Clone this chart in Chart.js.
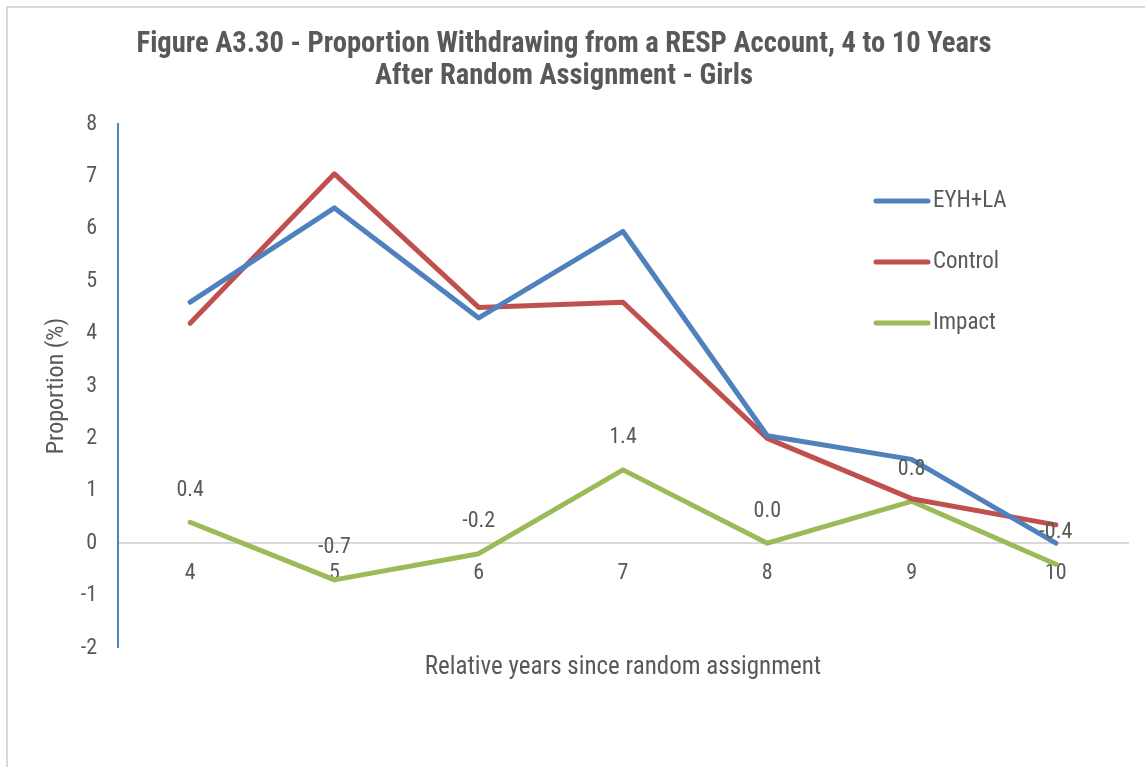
<!DOCTYPE html>
<html>
<head>
<meta charset="utf-8">
<script src="https://cdn.jsdelivr.net/npm/chart.js@4"></script>
<style>
  body { margin: 0; background: #fff; }
  #wrap { position: relative; width: 1145px; height: 767px; overflow: hidden; }
  #frame { position: absolute; left: 6px; top: 6px; width: 1200px; height: 800px; border: 2px solid #d9d9d9; box-sizing: border-box; pointer-events: none; }
  canvas { position: absolute; left: 0; top: 0; }
</style>
</head>
<body>
<div id="wrap">
  <canvas id="chart" width="1145" height="767"></canvas>
  <div id="frame"></div>
</div>
<script>
var years = ["4", "5", "6", "7", "8", "9", "10"];
var eyhLa = [4.6, 6.4, 4.3, 5.95, 2.05, 1.6, 0.0];
var control = [4.2, 7.05, 4.5, 4.6, 2.0, 0.85, 0.35];
var impact = [0.4, -0.7, -0.2, 1.4, 0.0, 0.8, -0.4];
var yTicks = [-2, -1, 0, 1, 2, 3, 4, 5, 6, 7, 8];

var FONT = "'Liberation Sans Narrow', 'Arial Narrow', 'Roboto Condensed', 'Liberation Sans', sans-serif";
var GREY = "#595959";

// etiquetas de valor sobre a série Impact
var valueLabels = {
  id: "valueLabels",
  afterDatasetsDraw: function (chart) {
    var ctx = chart.ctx;
    var meta = chart.getDatasetMeta(2);
    ctx.save();
    ctx.font = "22px " + FONT;
    ctx.fillStyle = GREY;
    ctx.textAlign = "center";
    ctx.textBaseline = "middle";
    meta.data.forEach(function (pt, i) {
      ctx.fillText(impact[i].toFixed(1), pt.x, pt.y - 32);
    });
    ctx.restore();
  }
};

// legenda à direita, dentro da área do gráfico
var sideLegend = {
  id: "sideLegend",
  afterDraw: function (chart) {
    var ctx = chart.ctx;
    ctx.save();
    ctx.font = "23px " + FONT;
    ctx.textBaseline = "middle";
    ctx.textAlign = "left";
    chart.data.datasets.forEach(function (ds, i) {
      var y = 201 + i * 61;
      ctx.strokeStyle = ds.borderColor;
      ctx.lineWidth = 5;
      ctx.lineCap = "round";
      ctx.beginPath();
      ctx.moveTo(876, y);
      ctx.lineTo(928, y);
      ctx.stroke();
      ctx.fillStyle = GREY;
      ctx.fillText(ds.label, 933, y);
    });
    ctx.restore();
  }
};

var ctx = document.getElementById("chart").getContext("2d");

new Chart(ctx, {
  type: "line",
  data: {
    labels: years,
    datasets: [
      { label: "EYH+LA", data: eyhLa, borderColor: "#4f81bd", backgroundColor: "#4f81bd" },
      { label: "Control", data: control, borderColor: "#c0504d", backgroundColor: "#c0504d" },
      { label: "Impact", data: impact, borderColor: "#9bbb59", backgroundColor: "#9bbb59" }
    ]
  },
  options: {
    responsive: false,
    animation: false,
    elements: {
      line: { borderWidth: 5, tension: 0, borderCapStyle: "round", borderJoinStyle: "round" },
      point: { radius: 0 }
    },
    layout: { padding: { left: 0, right: 17, top: 0, bottom: 0 } },
    scales: {
      x: {
        position: { y: 0 },
        offset: true,
        grid: { display: false, drawTicks: false },
        border: { color: "#d9d9d9", width: 2 },
        ticks: { color: GREY, font: { family: FONT, size: 22 }, padding: 17 }
      },
      y: {
        min: -2,
        max: 8,
        afterBuildTicks: function (scale) {
          scale.ticks = yTicks.map(function (v) { return { value: v }; });
        },
        grid: { display: false, drawTicks: false },
        border: { color: "#4f81bd", width: 2 },
        ticks: { color: GREY, font: { family: FONT, size: 22 }, padding: 21 },
        title: {
          display: true,
          text: "Proportion (%)",
          color: GREY,
          font: { family: FONT, size: 24 },
          padding: { top: 43, bottom: 0 }
        },
        afterFit: function (scale) { scale.width = 118; }
      }
    },
    plugins: {
      legend: { display: false },
      tooltip: { enabled: false },
      title: {
        display: true,
        text: ["Figure A3.30 - Proportion Withdrawing from a RESP Account, 4 to 10 Years", "After Random Assignment - Girls"],
        color: GREY,
        font: { family: FONT, size: 28.6, weight: "bold", lineHeight: 1.12 },
        padding: { top: 29, bottom: 31 }
      },
      subtitle: {
        display: true,
        position: "bottom",
        fullSize: false,
        text: "Relative years since random assignment",
        color: GREY,
        font: { family: FONT, size: 25, weight: "normal" },
        padding: { top: 5, bottom: 84 }
      }
    }
  },
  plugins: [valueLabels, sideLegend]
});
</script>
</body>
</html>
